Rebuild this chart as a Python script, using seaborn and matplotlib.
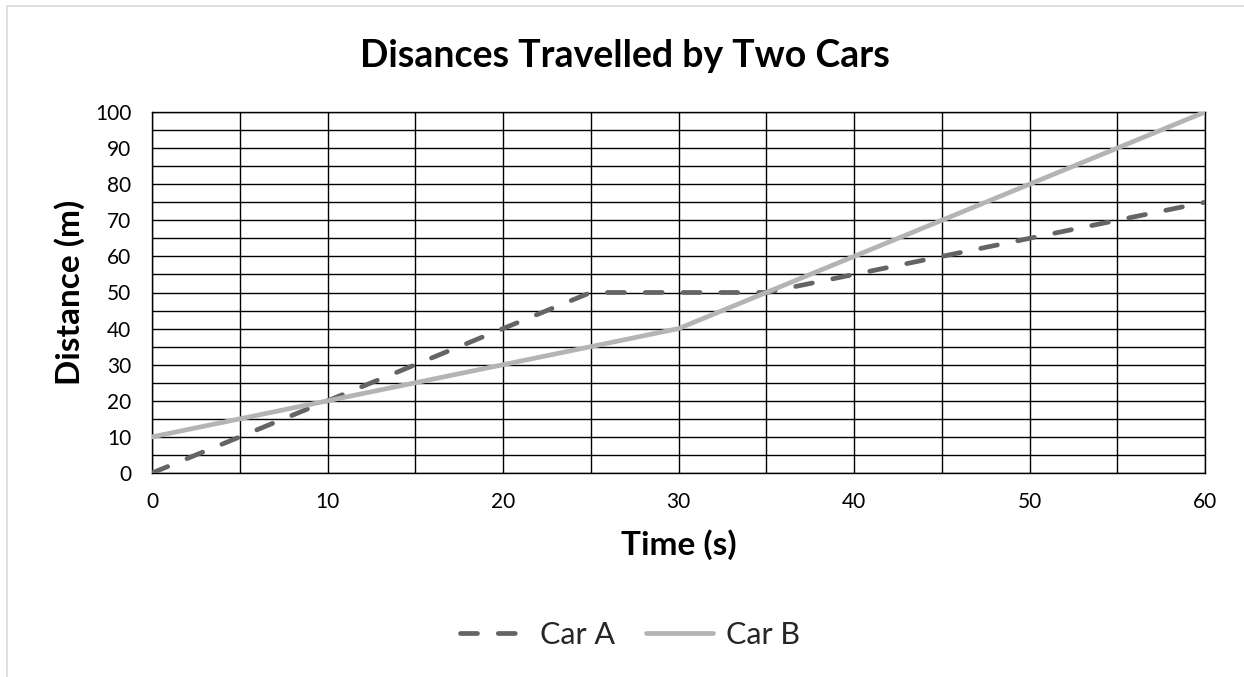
import numpy as np
import pandas as pd
import matplotlib
matplotlib.use("Agg")
import matplotlib.pyplot as plt
import seaborn as sns
from matplotlib.patches import Rectangle

time_s = [0, 5, 10, 15, 20, 25, 30, 35, 40, 45, 50, 55, 60]
car_a = [0, 10, 20, 30, 40, 50, 50, 50, 55, 60, 65, 70, 75]
car_b = [10, 15, 20, 25, 30, 35, 40, 50, 60, 70, 80, 90, 100]
series_names = ["Car A", "Car B"]
title = "Disances Travelled by Two Cars"
x_label = "Time (s)"
y_label = "Distance (m)"

sns.set_theme(style="white")
plt.rcParams['font.family'] = ['Lato', 'DejaVu Sans']

fig = plt.figure(figsize=(12.44, 6.77), dpi=100)
ax = fig.add_axes([152/1244, 1-473/677, (1205-152)/1244, (473-112)/677])

# chart border (only left and top edges visible in the frame)
fig.patches.append(Rectangle((7/1244, -0.1), 1.2, 1.1-6/677, transform=fig.transFigure,
                             fill=False, edgecolor="#d9d9d9", linewidth=1.2))

df = pd.DataFrame({"Time": time_s * 2,
                   "Distance": car_a + car_b,
                   "Car": [series_names[0]] * len(time_s) + [series_names[1]] * len(time_s)})

palette = {"Car A": "#646464", "Car B": "#b4b4b4"}
sns.lineplot(data=df[df.Car == "Car A"], x="Time", y="Distance", ax=ax, color=palette["Car A"],
             linewidth=3.4, label="Car A", zorder=3)
sns.lineplot(data=df[df.Car == "Car B"], x="Time", y="Distance", ax=ax, color=palette["Car B"],
             linewidth=3.4, label="Car B", solid_capstyle="round", zorder=3)
ax.lines[0].set_linestyle((0, (3.6, 4.4)))
ax.lines[0].set_dash_capstyle("round")

ax.set_xlim(0, 60)
ax.set_ylim(0, 100)
ax.set_xticks(np.arange(0, 61, 10))
ax.set_yticks(np.arange(0, 101, 10))
ax.set_xticks(np.arange(0, 61, 5), minor=True)
ax.set_yticks(np.arange(0, 101, 5), minor=True)
ax.grid(True, which="both", color="black", linewidth=1.0)
ax.tick_params(which="both", length=0, labelsize=15, colors="black")
ax.tick_params(axis="x", pad=14)
ax.tick_params(axis="y", pad=15)
for s in ax.spines.values():
    s.set_color("black")
    s.set_linewidth(1.0)

ax.set_xlabel(x_label, fontsize=24, fontweight="bold", labelpad=12, color="black")
ax.set_ylabel(y_label, fontsize=24, fontweight="bold", labelpad=7, color="black")
fig.text(625/1244, 1-67/677, title, ha="center", va="baseline", fontsize=27, fontweight="bold", color="black")

leg = ax.legend(loc="center", bbox_to_anchor=(630/1244, 1-635/677), bbox_transform=fig.transFigure,
                ncol=2, frameon=False, fontsize=22, handlelength=2.2, columnspacing=1.0,
                handletextpad=0.43)
leg.get_lines()[0].set_dash_capstyle("round")
leg.get_lines()[1].set_solid_capstyle("round")

fig.savefig("out.png", dpi=100, facecolor="white")
